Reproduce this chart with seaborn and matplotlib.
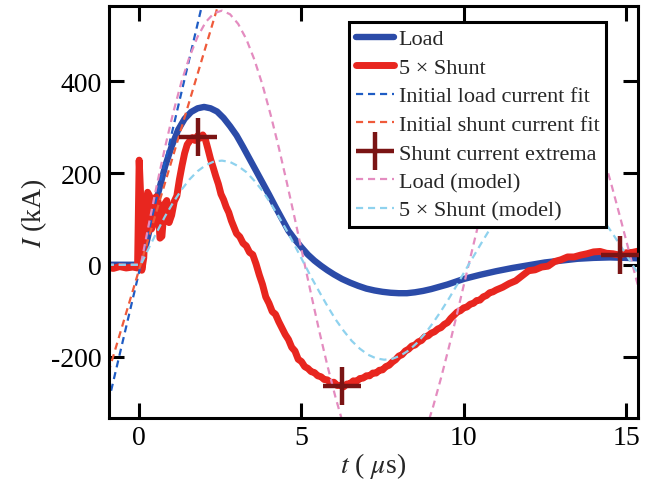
import matplotlib
matplotlib.use("Agg")
import matplotlib.pyplot as plt
import seaborn as sns

# ---- measured load current (kA) ----
load_t = [-1.0, -0.5, 0.0, 0.2, 0.4, 0.6, 0.8, 1.0, 1.2, 1.4, 1.6, 1.8, 2.0, 2.2, 2.4,
          2.6, 2.8, 3.0, 3.2, 3.4, 3.6, 3.8, 4.0, 4.2, 4.4, 4.6, 4.8, 5.0, 5.2, 5.4,
          5.6, 5.8, 6.0, 6.25, 6.5, 6.75, 7.0, 7.25, 7.5, 7.75, 8.0, 8.25, 8.5, 8.75,
          9.0, 9.25, 9.5, 9.75, 10.0, 10.5, 11.0, 11.5, 12.0, 12.5, 13.0, 13.5, 14.0,
          14.5, 15.0, 15.4]
load_I = [0, 0, 0, 40, 100, 160, 215, 258, 294, 318, 333, 341, 344, 341, 334,
          320, 302, 282, 257, 231, 205, 179, 153, 126, 100, 74, 55, 38, 22, 9,
          -2, -12, -21, -31, -39, -46, -52, -56, -59, -61, -62, -62, -60, -57,
          -53, -48, -43, -37, -31, -22, -14, -7, -1, 5, 9, 13, 15,
          16, 15, 14]

# ---- measured shunt current x5 (kA) ----
shunt_t = [-1.0, -0.8, -0.6, -0.4, -0.2, -0.05, 0.0, 0.04, 0.08, 0.14, 0.2, 0.26, 0.32,
           0.38, 0.45, 0.52, 0.58, 0.64, 0.7, 0.78, 0.85, 0.92, 1.0, 1.08, 1.16, 1.24,
           1.32, 1.4, 1.48, 1.56, 1.64, 1.72, 1.8, 1.88, 1.96, 2.04, 2.12, 2.2, 2.28,
           2.36, 2.44, 2.52, 2.6, 2.68, 2.76, 2.84, 2.92, 3.0, 3.1, 3.2, 3.3, 3.4, 3.5,
           3.6, 3.7, 3.8, 3.9, 4.0, 4.1, 4.2, 4.3, 4.4, 4.5, 4.6, 4.7, 4.8, 4.9, 5.0,
           5.1, 5.2, 5.3, 5.4, 5.5, 5.6, 5.7, 5.8, 5.9, 6.0, 6.1, 6.2, 6.3, 6.4, 6.5,
           6.6, 6.7, 6.8, 6.9, 7.0, 7.1, 7.2, 7.3, 7.4, 7.5, 7.6, 7.7, 7.8, 7.9, 8.0,
           8.1, 8.2, 8.3, 8.4, 8.5, 8.6, 8.7, 8.8, 8.9, 9.0, 9.1, 9.2, 9.3, 9.4, 9.5,
           9.6, 9.7, 9.8, 9.9, 10.0, 10.1, 10.2, 10.3, 10.4, 10.5, 10.6, 10.7, 10.8,
           10.9, 11.0, 11.2, 11.4, 11.6, 11.8, 12.0, 12.2, 12.4, 12.6, 12.8, 13.0,
           13.2, 13.4, 13.6, 13.8, 14.0, 14.2, 14.4, 14.6, 14.8, 15.0, 15.2, 15.4]
shunt_I = [-5, -8, -4, -7, -5, -7, 228, 160, -12, 15, 105, 158, 150,
           78, 92, 148, 138, 58, 62, 132, 140, 92, 108, 138, 150, 186,
           216, 243, 262, 270, 277, 271, 281, 276, 283, 273, 252, 230, 212,
           193, 176, 154, 142, 126, 114, 96, 82, 68, 61, 47, 41, 27, 22,
           2, -22, -43, -70, -84, -102, -108, -124, -138, -152, -163, -180, -188, -206, -211,
           -222, -226, -233, -235, -242, -244, -250, -251, -257, -256, -263, -263, -266, -260, -259,
           -253, -254, -248, -247, -242, -242, -236, -236, -230, -229, -222, -219, -212, -207, -199,
           -196, -188, -184, -177, -175, -168, -165, -157, -155, -149, -146, -140, -137, -130, -126,
           -117, -110, -103, -100, -94, -92, -86, -84, -78, -77, -70, -67, -61,
           -59, -55, -49, -41, -35, -24, -13, -11, -5, -3, 7, 11,
           17, 17, 21, 24, 28, 29, 25, 24, 21, 26, 27, 30]

# ---- linear fits to the initial rise ----
load_fit_t = [-0.95, 1.95]
load_fit_I = [-300, 570]
shunt_fit_t = [-0.95, 2.45]
shunt_fit_I = [-235, 570]

# ---- shunt current extrema ----
extrema_t = [1.8, 6.25, 14.8]
extrema_I = [278, -265, 22]

# ---- circuit model ----
model_t = [-1.0, 0.05, 0.30, 0.55, 0.80, 1.05, 1.30, 1.55, 1.80, 2.05, 2.30, 2.55, 2.80,
           3.05, 3.30, 3.55, 3.80, 4.05, 4.30, 4.55, 4.80, 5.05, 5.30, 5.55, 5.80, 6.05,
           6.30, 6.55, 6.80, 7.05, 7.30, 7.55, 7.80, 8.05, 8.30, 8.55, 8.80, 9.05, 9.30,
           9.55, 9.80, 10.05, 10.30, 10.55, 10.80, 11.05, 11.30, 11.55, 11.80, 12.05,
           12.30, 12.55, 12.80, 13.05, 13.30, 13.55, 13.80, 14.05, 14.30, 14.55, 14.80,
           15.05, 15.30, 15.55]
model_load_I = [0, 0, 89, 176, 257, 332, 398, 453, 497, 529, 548, 554, 546, 525, 492, 447,
                392, 327, 256, 179, 99, 17, -65, -145, -220, -289, -351, -403, -446, -477,
                -497, -504, -499, -483, -455, -416, -367, -311, -247, -178, -105, -30, 44,
                117, 187, 251, 309, 358, 399, 430, 450, 459, 457, 444, 420, 387, 344, 294,
                237, 175, 109, 41, -27, -94]
model_shunt_I = [0, 0, 37, 72, 106, 136, 163, 186, 204, 217, 225, 227, 224, 215, 202, 183,
                 161, 134, 105, 74, 41, 7, -27, -59, -90, -119, -144, -166, -183, -196,
                 -204, -207, -205, -198, -187, -171, -151, -127, -101, -73, -43, -12, 18,
                 48, 77, 103, 127, 147, 164, 176, 185, 188, 187, 182, 172, 159, 141, 121,
                 97, 72, 45, 17, -11, -38]

x_ticks = [0, 5, 10, 15]
y_ticks = [-200, 0, 200, 400]

sns.set_theme(style="ticks")
plt.rcParams["font.family"] = ["Liberation Serif", "DejaVu Serif"]
plt.rcParams["mathtext.fontset"] = "stix"
plt.rcParams["axes.unicode_minus"] = False

fig = plt.figure(figsize=(6.49, 4.85), dpi=100)
ax = fig.add_axes([109 / 649, 1 - 419 / 485, 529 / 649, 412 / 485])

dash = (0, (3.2, 2.2))
common = dict(ax=ax, estimator=None, sort=False)

sns.lineplot(x=load_t, y=load_I, color="#2b4ba8", lw=4.6, label="Load",
             solid_capstyle="round", solid_joinstyle="round", **common)
sns.lineplot(x=shunt_t, y=shunt_I, color="#e8261f", lw=5.0, label="5 \u00d7 Shunt",
             solid_capstyle="round", solid_joinstyle="round", **common)
sns.lineplot(x=load_fit_t, y=load_fit_I, color="#1f5cc4", lw=1.6, linestyle=dash,
             label="Initial load current fit", **common)
sns.lineplot(x=shunt_fit_t, y=shunt_fit_I, color="#ef5a3a", lw=1.6, linestyle=dash,
             label="Initial shunt current fit", **common)
sns.lineplot(x=model_t, y=model_load_I, color="#e48cc0", lw=1.6, linestyle=dash,
             label="Load (model)", **common)
sns.lineplot(x=model_t, y=model_shunt_I, color="#8fd2ee", lw=1.6, linestyle=dash,
             label="5 \u00d7 Shunt (model)", **common)
ax.plot(extrema_t, extrema_I, linestyle="none", marker="+", markersize=27,
        markeredgewidth=3.2, color="#7a1414", label="Shunt current extrema", zorder=5)

ax.set_xlim(-0.93, 15.37)
ax.set_ylim(-334, 564)
ax.set_xticks(x_ticks)
ax.set_yticks(y_ticks)
ax.tick_params(direction="in", length=11, width=2.2, top=True, right=True,
               labelsize=20, colors="black", pad=5)
for sp in ax.spines.values():
    sp.set_visible(True)
    sp.set_linewidth(2.2)
    sp.set_color("black")

ax.set_xlabel(r"$t$ ( $\mu$s)", fontsize=20, labelpad=0)
ax.set_ylabel(r"$I$ (kA)", fontsize=20, labelpad=2)

order = ["Load", "5 \u00d7 Shunt", "Initial load current fit", "Initial shunt current fit",
         "Shunt current extrema", "Load (model)", "5 \u00d7 Shunt (model)"]
handles, labels = ax.get_legend_handles_labels()
lookup = dict(zip(labels, handles))
leg = ax.legend([lookup[k] for k in order], order, loc="upper right",
                bbox_to_anchor=(0.94, 0.961), borderaxespad=0, fontsize=16,
                handlelength=1.75, handletextpad=0.2, labelspacing=0.36,
                borderpad=0.3, fancybox=False, framealpha=1, numpoints=1)
leg.get_frame().set_edgecolor("black")
leg.get_frame().set_linewidth(2.2)

fig.savefig("out.png", dpi=100)
